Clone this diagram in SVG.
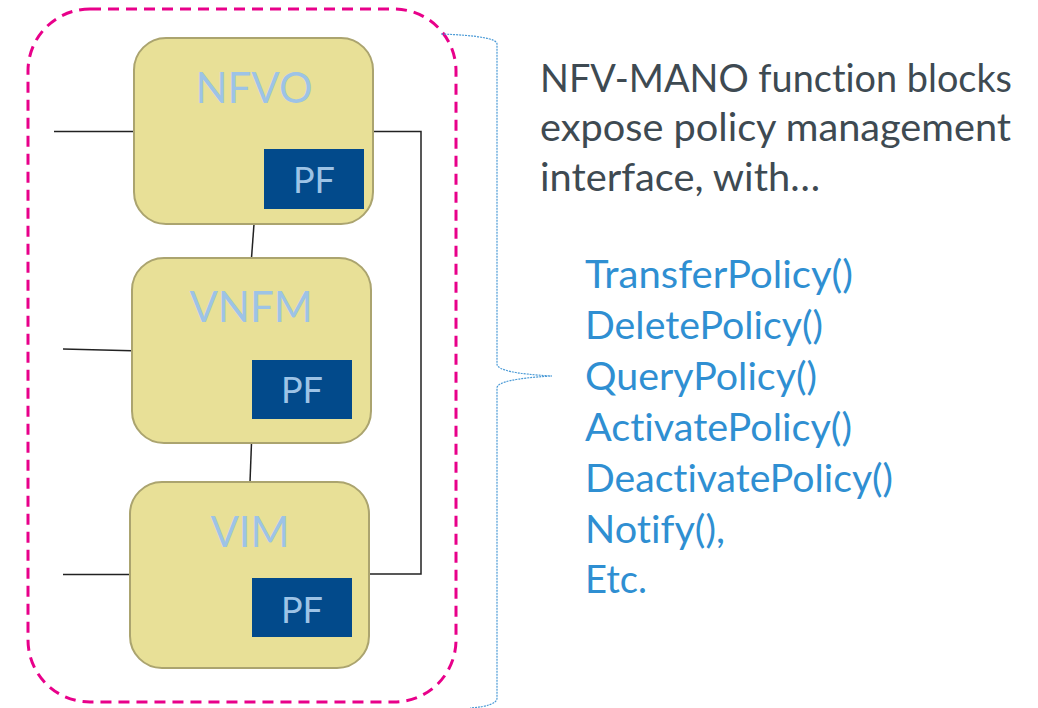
<svg xmlns="http://www.w3.org/2000/svg" width="1038" height="708" viewBox="0 0 1038 708">
  <style>
    text { font-variant-ligatures: none; font-feature-settings: "liga" 0, "clig" 0; }
    .node { fill: #e8e097; stroke: #aba46f; stroke-width: 2; }
    .pf { fill: #024a8b; }
    .lbl { font-family: Lato, "Open Sans", sans-serif; fill: #9dc3e6; text-anchor: middle; }
    .big { font-size: 42px; }
    .pft { font-size: 36px; }
    .wire { fill: none; stroke: #222; stroke-width: 1.5; }
    .desc { font-family: Lato, "Open Sans", sans-serif; font-size: 38px; fill: #3e4a52; }
    .api { font-family: Lato, "Open Sans", sans-serif; font-size: 38.5px; fill: #2f8fd2; }
  </style>
  <rect width="1038" height="708" fill="#ffffff"/>
  <g id="boundary">
    <rect x="28" y="9" width="428" height="693" rx="62" ry="62" fill="none" stroke="#e8008a" stroke-width="3" stroke-dasharray="11 7"/>
  </g>
  <g id="brace">
    <path d="M 441 34 Q 497 36 497 44 L 497 364 Q 497 373 552 376 Q 497 379 497 388 L 497 698 Q 497 706 470 708" fill="none" stroke="#4a9ad6" stroke-width="1.2" stroke-dasharray="2 1"/>
  </g>
  <g id="connectors">
    <line class="wire" x1="54" y1="131.5" x2="134" y2="131.5"/>
    <polyline class="wire" points="373,131.5 421,131.5 421,574 369,574"/>
    <line class="wire" x1="254" y1="224" x2="251.5" y2="258"/>
    <line class="wire" x1="251.5" y1="443" x2="250" y2="482"/>
    <line class="wire" x1="63" y1="349" x2="132" y2="350.7"/>
    <line class="wire" x1="63" y1="574.5" x2="130" y2="574.5"/>
  </g>
  <g id="nfvo">
    <rect class="node" x="134" y="38" width="239" height="186" rx="32" ry="32"/>
    <text class="lbl big" x="254" y="103">NFVO</text>
    <rect class="pf" x="264" y="149" width="100" height="60"/>
    <text class="lbl pft" x="314" y="193">PF</text>
  </g>
  <g id="vnfm">
    <rect class="node" x="132" y="258" width="239" height="185" rx="32" ry="32"/>
    <text class="lbl big" x="251" y="322">VNFM</text>
    <rect class="pf" x="252" y="360" width="100" height="59"/>
    <text class="lbl pft" x="302" y="403">PF</text>
  </g>
  <g id="vim">
    <rect class="node" x="130" y="482" width="239" height="186" rx="32" ry="32"/>
    <text class="lbl big" x="250" y="547">VIM</text>
    <rect class="pf" x="252" y="578" width="100" height="59"/>
    <text class="lbl pft" x="302" y="623">PF</text>
  </g>
  <g id="description">
    <text class="desc" x="540" y="92" textLength="472" lengthAdjust="spacingAndGlyphs">NFV-MANO function blocks</text>
    <text class="desc" x="540" y="141" textLength="471" lengthAdjust="spacingAndGlyphs">expose policy management</text>
    <text class="desc" x="540" y="191" textLength="280" lengthAdjust="spacingAndGlyphs">interface, with…</text>
  </g>
  <g id="api-list">
    <text class="api" x="585" y="288" textLength="268" lengthAdjust="spacingAndGlyphs">TransferPolicy()</text>
    <text class="api" x="585" y="339" textLength="238" lengthAdjust="spacingAndGlyphs">DeletePolicy()</text>
    <text class="api" x="585" y="390" textLength="232" lengthAdjust="spacingAndGlyphs">QueryPolicy()</text>
    <text class="api" x="585" y="441" textLength="267" lengthAdjust="spacingAndGlyphs">ActivatePolicy()</text>
    <text class="api" x="585" y="492" textLength="308" lengthAdjust="spacingAndGlyphs">DeactivatePolicy()</text>
    <text class="api" x="585" y="543" textLength="140" lengthAdjust="spacingAndGlyphs">Notify(),</text>
    <text class="api" x="585" y="593" textLength="62" lengthAdjust="spacingAndGlyphs">Etc.</text>
  </g>
</svg>
